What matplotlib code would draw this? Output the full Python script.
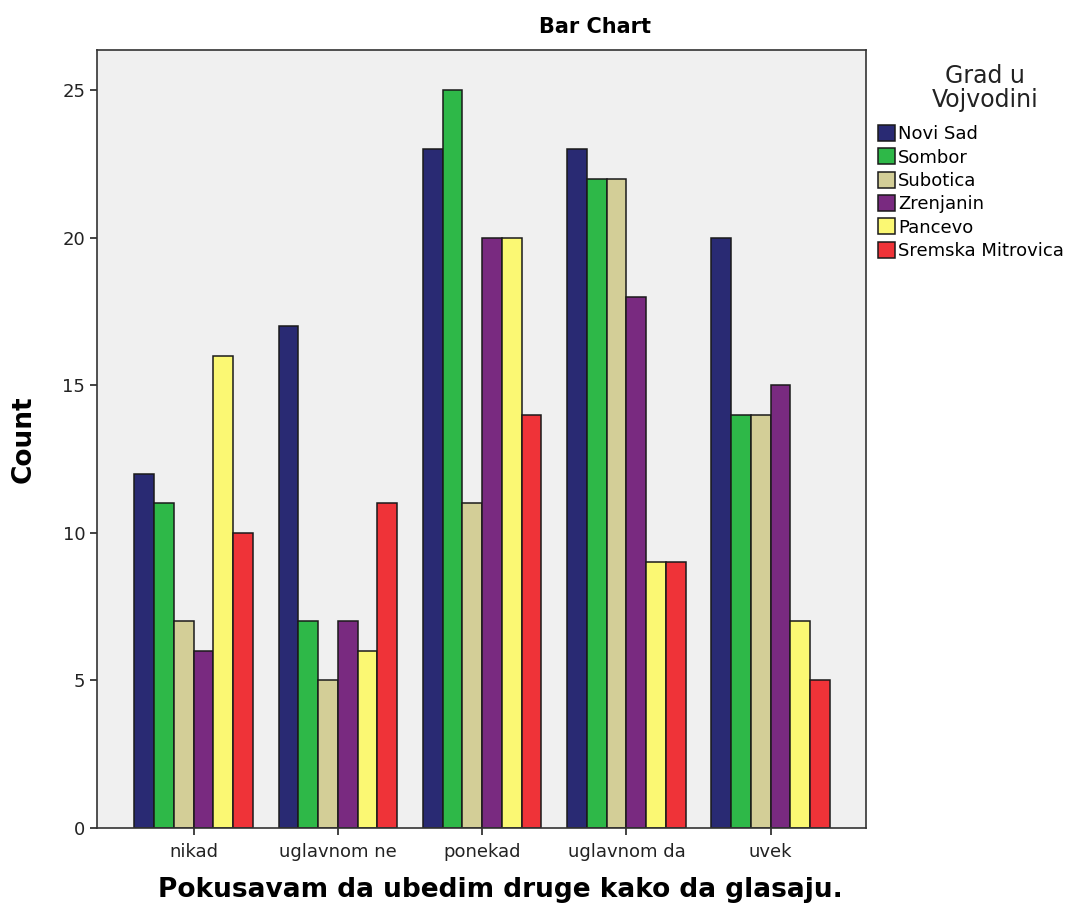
import numpy as np
import matplotlib.pyplot as plt

categories = ['nikad', 'uglavnom ne', 'ponekad', 'uglavnom da', 'uvek']
cities = ['Novi Sad', 'Sombor', 'Subotica', 'Zrenjanin', 'Pancevo', 'Sremska Mitrovica']
novi_sad = [12, 17, 23, 23, 20]
sombor = [11, 7, 25, 22, 14]
subotica = [7, 5, 11, 22, 14]
zrenjanin = [6, 7, 20, 18, 15]
pancevo = [16, 6, 20, 9, 7]
sremska = [10, 11, 14, 9, 5]
colors = ['#292a73', '#2eb848', '#d3ce97', '#792a80', '#fbf873', '#ef3338']

series = [novi_sad, sombor, subotica, zrenjanin, pancevo, sremska]

plt.rcParams['font.family'] = ['DejaVu Sans']
fig = plt.figure(figsize=(10.8, 9.1), dpi=100)
ax = fig.add_axes([0.0898, 0.0901, 0.712, 0.855])
ax.set_facecolor('#f0f0f0')

x = np.arange(len(categories))
w = 0.137
for i, (vals, name, c) in enumerate(zip(series, cities, colors)):
    ax.bar(x + (i - 2.5) * w, vals, w, color=c, edgecolor='#1a1a1a', linewidth=1.1, label=name)

ax.set_xlim(-0.67, 4.66)
ax.set_ylim(0, 26.36)
ax.set_xticks(x)
ax.set_xticklabels(categories)
ax.set_yticks([0, 5, 10, 15, 20, 25])
ax.tick_params(axis='both', direction='out', length=5, width=1.2, labelsize=13, colors='#222222')
ax.tick_params(axis='x', pad=6)
for s in ax.spines.values():
    s.set_linewidth(1.2)
    s.set_color('#333333')

fig.text(595 / 1080, 1 - 27 / 910, 'Bar Chart', fontsize=15, fontweight='bold', ha='center', va='center')
ax.set_ylabel('Count', fontsize=19, fontweight='bold')
ax.yaxis.set_label_coords(-(97 - 24) / 769, 0.5)
ax.set_xlabel('Pokusavam da ubedim druge kako da glasaju.', fontsize=19, fontweight='bold')
ax.xaxis.set_label_coords((500 - 97) / 769, -(890 - 828) / 778)
ax.xaxis.label.set_va('center')
ax.yaxis.label.set_va('center')

# legend title as separate text, centred above the entries
fig.text(985 / 1080, 1 - 88 / 910, 'Grad u\nVojvodini', fontsize=17, ha='center', va='center',
         multialignment='center', linespacing=1.05, color='#222222')
leg = ax.legend(loc='upper left', bbox_to_anchor=(878 / 1080, 1 - 125 / 910),
                bbox_transform=fig.transFigure, frameon=False, fontsize=13,
                handlelength=0.95, handleheight=1.0, handletextpad=0.15,
                labelspacing=0.28, borderaxespad=0, borderpad=0)

fig.savefig('out.png', dpi=100)
